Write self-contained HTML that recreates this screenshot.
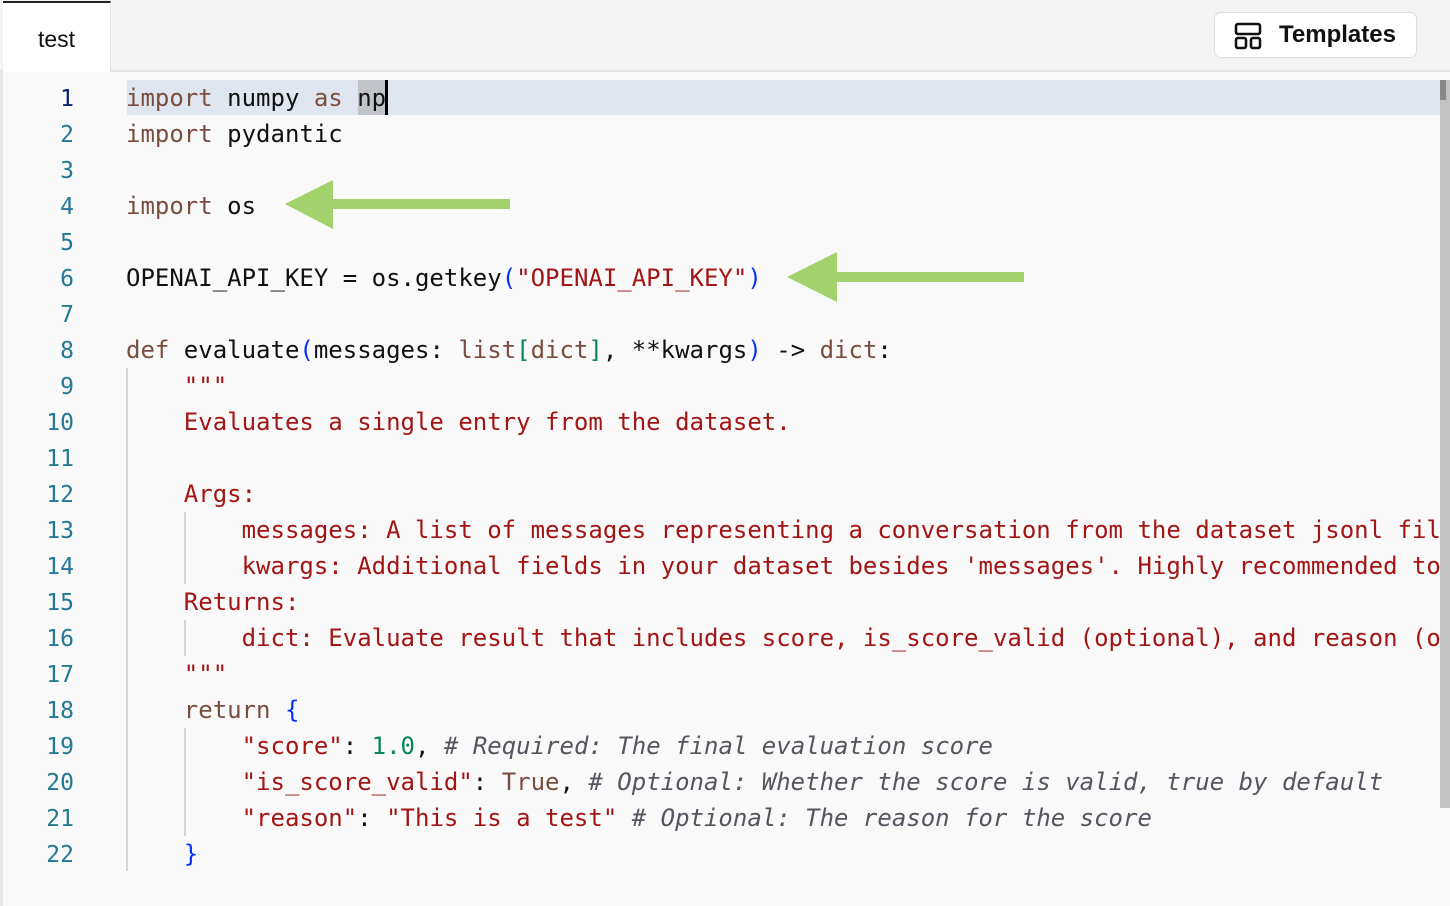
<!DOCTYPE html>
<html><head><meta charset="utf-8"><style>
*{margin:0;padding:0;box-sizing:border-box}
body{width:1450px;height:906px;overflow:hidden;background:#f9f9f9;position:relative;font-family:"DejaVu Sans Mono","Liberation Mono",monospace}
.top{position:absolute;left:0;top:0;width:1450px;height:72px;background:#f3f3f3;border-bottom:2px solid #e3e3e3}
.tab{position:absolute;left:3px;top:1px;width:108px;height:71px;background:#fff;border-top:2px solid #222;border-right:1px solid #e3e3e3;font-family:"Liberation Sans",sans-serif;font-size:23px;color:#111;text-align:center;line-height:72px}
.btn{position:absolute;left:1214px;top:12px;width:203px;height:46px;background:#fff;border:1px solid #ddd;border-radius:7px;font-family:"Liberation Sans",sans-serif;font-weight:bold;font-size:24px;color:#111;line-height:44px;padding-left:64px}
.ln{position:absolute;left:0;width:74px;text-align:right;font-size:23px;color:#237893;line-height:36px}
.cl{position:absolute;left:126px;font-size:24px;line-height:36px;white-space:pre;color:#111}
.k{color:#7a4e3e}.s{color:#a31515}.n{color:#098658}.b{color:#0431fa}.c{color:#555560;font-style:italic}
.g{position:absolute;width:2px;background:#d4d4d4}
</style></head><body>
<div style="position:absolute;left:0;top:72px;width:3px;height:834px;background:#e6e6e6"></div>
<div class="top"></div>
<div class="tab">test</div>
<div class="btn"><svg style="position:absolute;left:19px;top:9px" width="28" height="28" viewBox="0 0 28 28" fill="none" stroke="#111" stroke-width="2.6"><rect x="2" y="2" width="24" height="10" rx="2"/><rect x="2" y="16" width="10" height="10" rx="2"/><rect x="17" y="16" width="9" height="10" rx="2"/></svg>Templates</div>
<div style="position:absolute;left:127px;top:80px;width:1313px;height:35px;background:#e0e6ef"></div>
<div style="position:absolute;left:358px;top:80px;width:29px;height:35px;background:#c0c3c8"></div>
<div style="position:absolute;left:385px;top:80px;width:3px;height:35px;background:#000"></div>
<div style="position:absolute;left:1440px;top:80px;width:10px;height:728px;background:#c2c2c2"></div>
<div style="position:absolute;left:1440px;top:80px;width:6px;height:20px;background:#888"></div>
<div class="g" style="left:126px;top:368px;height:503px"></div>
<div class="g" style="left:184px;top:512px;height:72px"></div>
<div class="g" style="left:184px;top:620px;height:36px"></div>
<div class="g" style="left:184px;top:728px;height:108px"></div>
<div style="position:absolute;left:0;top:2px;width:80px;height:900px">
<div class="ln" style="top:79px;color:#0b216f">1</div>
<div class="ln" style="top:115px">2</div><div class="ln" style="top:151px">3</div><div class="ln" style="top:187px">4</div><div class="ln" style="top:223px">5</div><div class="ln" style="top:259px">6</div><div class="ln" style="top:295px">7</div><div class="ln" style="top:331px">8</div><div class="ln" style="top:367px">9</div><div class="ln" style="top:403px">10</div><div class="ln" style="top:439px">11</div><div class="ln" style="top:475px">12</div><div class="ln" style="top:511px">13</div><div class="ln" style="top:547px">14</div><div class="ln" style="top:583px">15</div><div class="ln" style="top:619px">16</div><div class="ln" style="top:655px">17</div><div class="ln" style="top:691px">18</div><div class="ln" style="top:727px">19</div><div class="ln" style="top:763px">20</div><div class="ln" style="top:799px">21</div><div class="ln" style="top:835px">22</div>
</div>
<div style="position:absolute;left:0;top:1px;width:1440px;height:905px;overflow:hidden">
<div class="cl" style="top:79px"><span class="k">import</span> numpy <span class="k">as</span> np</div>
<div class="cl" style="top:115px"><span class="k">import</span> pydantic</div>
<div class="cl" style="top:187px"><span class="k">import</span> os</div>
<div class="cl" style="top:259px">OPENAI_API_KEY = os.getkey<span class="b">(</span><span class="s">"OPENAI_API_KEY"</span><span class="b">)</span></div>
<div class="cl" style="top:331px"><span class="k">def</span> evaluate<span class="b">(</span>messages: <span class="k">list</span><span class="n">[</span><span class="k">dict</span><span class="n">]</span>, **kwargs<span class="b">)</span> -&gt; <span class="k">dict</span>:</div>
<div class="cl s" style="top:367px">    """</div>
<div class="cl s" style="top:403px">    Evaluates a single entry from the dataset.</div>
<div class="cl s" style="top:475px">    Args:</div>
<div class="cl s" style="top:511px">        messages: A list of messages representing a conversation from the dataset jsonl file.</div>
<div class="cl s" style="top:547px">        kwargs: Additional fields in your dataset besides 'messages'. Highly recommended to</div>
<div class="cl s" style="top:583px">    Returns:</div>
<div class="cl s" style="top:619px">        dict: Evaluate result that includes score, is_score_valid (optional), and reason (optional)</div>
<div class="cl s" style="top:655px">    """</div>
<div class="cl" style="top:691px">    <span class="k">return</span> <span class="b">{</span></div>
<div class="cl" style="top:727px">        <span class="s">"score"</span>: <span class="n">1.0</span>, <span class="c"># Required: The final evaluation score</span></div>
<div class="cl" style="top:763px">        <span class="s">"is_score_valid"</span>: <span class="k">True</span>, <span class="c"># Optional: Whether the score is valid, true by default</span></div>
<div class="cl" style="top:799px">        <span class="s">"reason"</span>: <span class="s">"This is a test"</span> <span class="c"># Optional: The reason for the score</span></div>
<div class="cl" style="top:835px">    <span class="b">}</span></div>
</div>
<svg style="position:absolute;left:0;top:0" width="1450" height="906">
<polygon fill="#a3d16c" points="285,204 333,180 333,199 510,199 510,209 333,209 333,229"/>
<polygon fill="#a3d16c" points="787,277 837,252 837,272 1024,272 1024,282 837,282 837,302"/>
</svg>
</body></html>
